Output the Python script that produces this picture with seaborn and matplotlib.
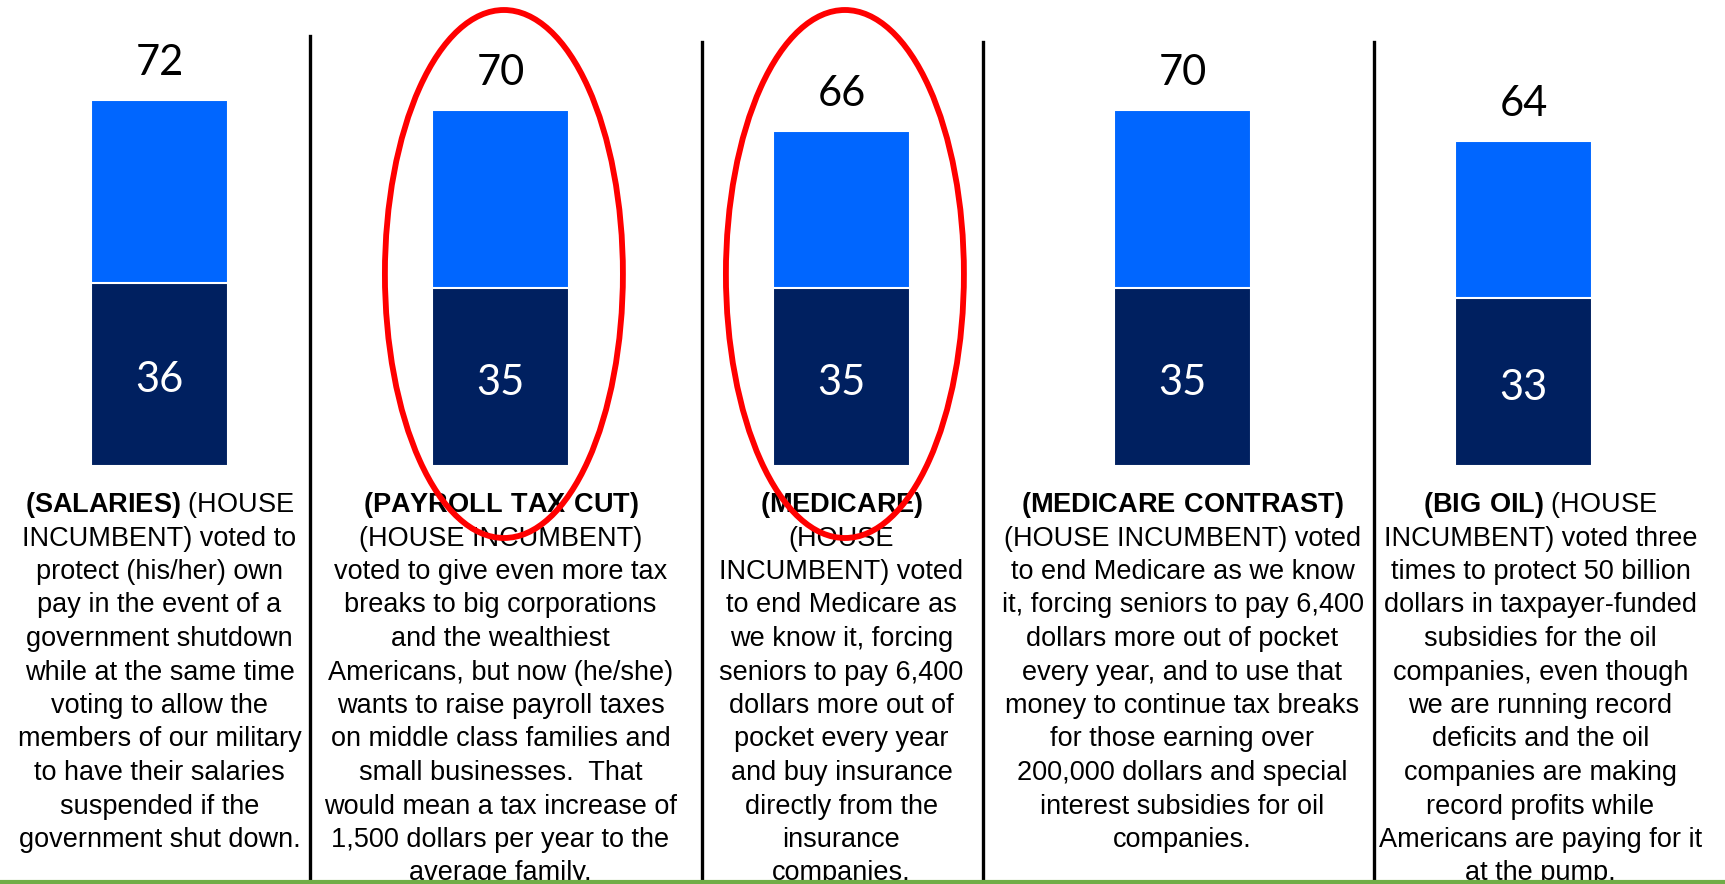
import pandas as pd
import matplotlib
matplotlib.use("Agg")
import matplotlib.pyplot as plt
import seaborn as sns
from matplotlib.patches import Ellipse
from matplotlib import font_manager

# =========================
# data
# =========================
issues = ["SALARIES", "PAYROLL TAX CUT", "MEDICARE", "MEDICARE CONTRAST", "BIG OIL"]
total_pct = [72, 70, 66, 70, 64]
strong_pct = [36, 35, 35, 35, 33]
circled = ["PAYROLL TAX CUT", "MEDICARE"]

desc_salaries = [
    r"$\mathbf{(SALARIES)}$ (HOUSE",
    "INCUMBENT) voted to",
    "protect (his/her) own",
    "pay in the event of a",
    "government shutdown",
    "while at the same time",
    "voting to allow the",
    "members of our military",
    "to have their salaries",
    "suspended if the",
    "government shut down.",
]
desc_payroll = [
    r"$\mathbf{(PAYROLL\ TAX\ CUT)}$",
    "(HOUSE INCUMBENT)",
    "voted to give even more tax",
    "breaks to big corporations",
    "and the wealthiest",
    "Americans, but now (he/she)",
    "wants to raise payroll taxes",
    "on middle class families and",
    "small businesses.  That",
    "would mean a tax increase of",
    "1,500 dollars per year to the",
    "average family.",
]
desc_medicare = [
    r"$\mathbf{(MEDICARE)}$",
    "(HOUSE",
    "INCUMBENT) voted",
    "to end Medicare as",
    "we know it, forcing",
    "seniors to pay 6,400",
    "dollars more out of",
    "pocket every year",
    "and buy insurance",
    "directly from the",
    "insurance",
    "companies.",
]
desc_contrast = [
    r"$\mathbf{(MEDICARE\ CONTRAST)}$",
    "(HOUSE INCUMBENT) voted",
    "to end Medicare as we know",
    "it, forcing seniors to pay 6,400",
    "dollars more out of pocket",
    "every year, and to use that",
    "money to continue tax breaks",
    "for those earning over",
    "200,000 dollars and special",
    "interest subsidies for oil",
    "companies.",
]
desc_oil = [
    r"$\mathbf{(BIG\ OIL)}$ (HOUSE",
    "INCUMBENT) voted three",
    "times to protect 50 billion",
    "dollars in taxpayer-funded",
    "subsidies for the oil",
    "companies, even though",
    "we are running record",
    "deficits and the oil",
    "companies are making",
    "record profits while",
    "Americans are paying for it",
    "at the pump.",
]
descriptions = [desc_salaries, desc_payroll, desc_medicare, desc_contrast, desc_oil]

# =========================
# style
# =========================
light_blue = "#0066FF"
navy = "#002060"
green = "#70AD47"

installed = {f.name for f in font_manager.fontManager.ttflist}
if "Liberation Sans Narrow" in installed:
    body_font, body_size = "Liberation Sans Narrow", 23.5
else:
    body_font, body_size = "Liberation Sans", 19.5
num_font = ["Lato", "DejaVu Sans"]

plt.rcParams["mathtext.fontset"] = "custom"
plt.rcParams["mathtext.rm"] = body_font
plt.rcParams["mathtext.bf"] = body_font + ":bold"

W, H, DPI = 1725, 884, 100
px_per_unit = 5.08      # pixels per percentage point
base_px = 466           # bar baseline, pixels from top
slot_px = 341           # pixels between bar centres
first_px = 159.5        # centre of first bar

df = pd.DataFrame({"issue": issues, "total": total_pct, "strong": strong_pct})

fig = plt.figure(figsize=(W / DPI, H / DPI), dpi=DPI)
ax = fig.add_axes([0, 0, 1, 1])

sns.barplot(data=df, x="issue", y="total", color=light_blue, saturation=1,
            width=0.4, edgecolor="white", linewidth=1.5, errorbar=None, ax=ax)
sns.barplot(data=df, x="issue", y="strong", color=navy, saturation=1,
            width=0.4, edgecolor="white", linewidth=1.5, errorbar=None, ax=ax)

ax.bar_label(ax.containers[0], labels=[str(v) for v in total_pct], padding=13,
             fontsize=30, family=num_font, color="black")
inner = ax.bar_label(ax.containers[1], labels=[str(v) for v in strong_pct],
                     label_type="center", fontsize=30, family=num_font,
                     color="white")
for t in inner:
    t.xyann = (0, -4)

ax.set_ylim(-(H - base_px) / px_per_unit, base_px / px_per_unit)
ax.set_xlim(-first_px / slot_px, (W - first_px) / slot_px)
ax.set_axis_off()

# =========================
# text under the bars
# =========================
trans = ax.get_xaxis_transform()
text_shift = [0, 0, 0, 0, 0.05]
for i, lines in enumerate(descriptions):
    for j, line in enumerate(lines):
        y = 1 - (512 + 33.5 * j) / H
        ax.text(i + text_shift[i], y, line, transform=trans, ha="center",
                va="baseline", fontsize=body_size, family=body_font,
                color="black", zorder=3)

# column dividers
for x, top_px in zip([0.44, 1.592, 2.415, 3.562], [36, 42, 42, 42]):
    ax.axvline(x, ymin=0, ymax=1 - top_px / H, color="black", lw=2.4, zorder=2)

# green rule at the bottom
ax.plot([0, 1], [2 / H, 2 / H], transform=ax.transAxes, color=green, lw=3,
        solid_capstyle="butt", clip_on=False, zorder=5)

# red circles
for name in circled:
    k = issues.index(name)
    ell = Ellipse((k + 0.01, (base_px - 274) / px_per_unit),
                  width=238 / slot_px, height=528 / px_per_unit,
                  fill=False, edgecolor="#FF0000", lw=4.2, zorder=6)
    ax.add_patch(ell)

fig.savefig("out.png", dpi=DPI)
plt.close(fig)
